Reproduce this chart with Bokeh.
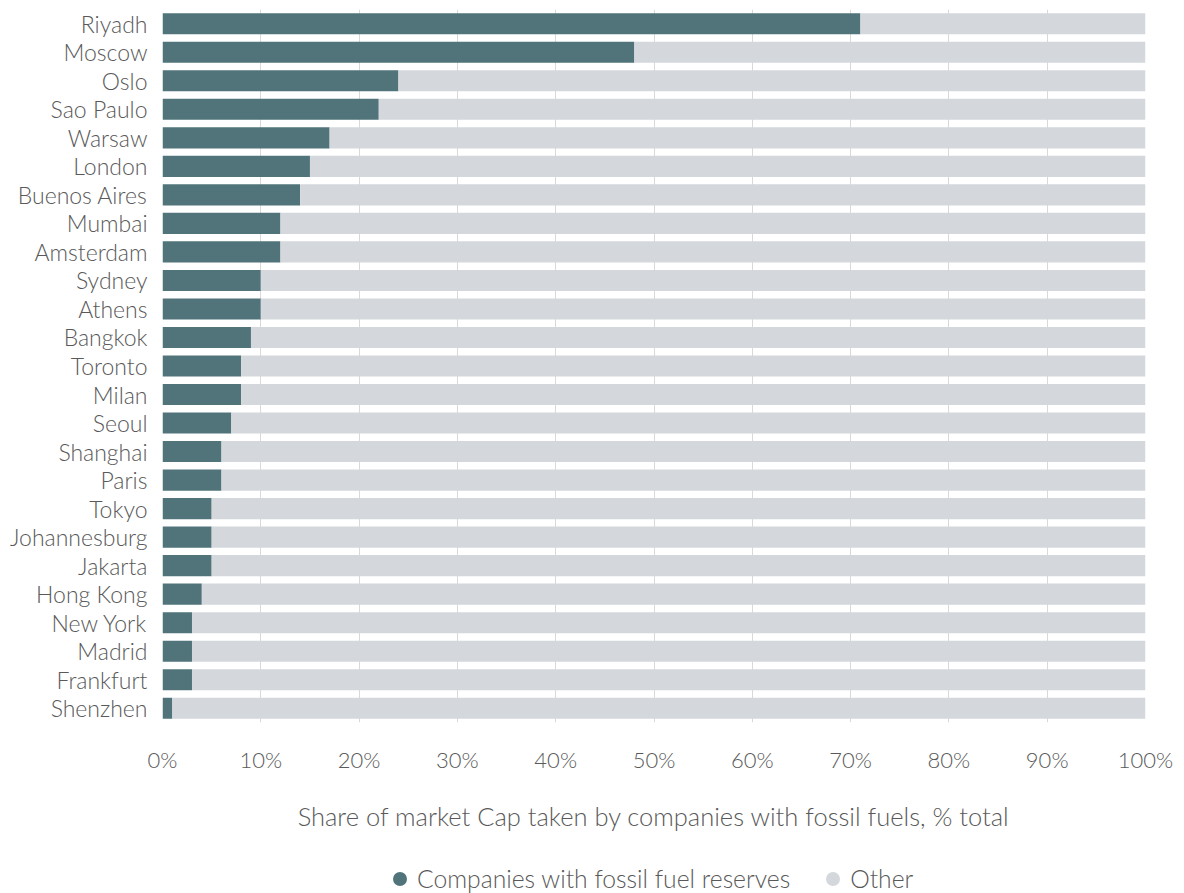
from bokeh.plotting import figure
from bokeh.layouts import column
from bokeh.models import FactorRange, Range1d, FixedTicker, PrintfTickFormatter, Legend, LegendItem, ColumnDataSource
from bokeh.embed import file_html
from bokeh.resources import INLINE

cities = ["Riyadh", "Moscow", "Oslo", "Sao Paulo", "Warsaw", "London", "Buenos Aires",
          "Mumbai", "Amsterdam", "Sydney", "Athens", "Bangkok", "Toronto", "Milan",
          "Seoul", "Shanghai", "Paris", "Tokyo", "Johannesburg", "Jakarta", "Hong Kong",
          "New York", "Madrid", "Frankfurt", "Shenzhen"]
fossil = [71, 48, 24, 22, 17, 15, 14, 12, 12, 10, 10, 9, 8, 8, 7, 6, 6, 5, 5, 5, 4, 3, 3, 3, 1]
other = [100 - v for v in fossil]
x_ticks = [0, 10, 20, 30, 40, 50, 60, 70, 80, 90, 100]
series_labels = ["Companies with fossil fuel reserves", "Other"]

FONT = "Lato Light"
TXT = "#595959"
C_FOSSIL = "#51747b"
C_OTHER = "#d4d8dc"

src = ColumnDataSource(dict(city=cities, fossil=fossil, other=other))

p = figure(width=1176, height=850, output_backend="svg", toolbar_location=None,
           y_range=FactorRange(factors=list(reversed(cities)), range_padding=0),
           x_range=Range1d(0, 100),
           min_border_left=162, min_border_right=31, min_border_top=9, min_border_bottom=128)
p.outline_line_color = None

p.hbar_stack(["fossil", "other"], y="city", height=0.74, color=[C_FOSSIL, C_OTHER],
             source=src, line_color=None)

p.ygrid.grid_line_color = None
p.xgrid.grid_line_color = "#d9d9d9"
p.xgrid.grid_line_width = 1

p.xaxis.ticker = FixedTicker(ticks=x_ticks)
p.xaxis.formatter = PrintfTickFormatter(format="%d%%")
for ax in (p.xaxis[0], p.yaxis[0]):
    ax.axis_line_color = None
    ax.major_tick_line_color = None
    ax.minor_tick_line_color = None
    ax.major_tick_out = 0
    ax.major_tick_in = 0
    ax.major_label_text_font = FONT
    ax.major_label_text_color = TXT
    ax.major_label_text_font_size = "22px"
p.yaxis.major_label_text_font_size = "23px"
p.yaxis.major_label_standoff = 15
p.xaxis.major_label_standoff = 23
p.xaxis.axis_label = "Share of market Cap taken by companies with fossil fuels, % total"
p.xaxis.axis_label_text_font = FONT
p.xaxis.axis_label_text_font_style = "normal"
p.xaxis.axis_label_text_color = TXT
p.xaxis.axis_label_text_font_size = "25.5px"
p.xaxis.axis_label_standoff = 25

# legend strip (separate figure, only holds the legend)
lf = figure(width=1176, height=43, output_backend="svg", toolbar_location=None,
            x_range=Range1d(0, 1), y_range=Range1d(0, 1),
            min_border_left=0, min_border_right=0, min_border_top=0, min_border_bottom=0)
lf.axis.visible = False
lf.grid.visible = False
lf.outline_line_color = None
r1 = lf.scatter(x=[-5], y=[-5], marker="circle", size=14, fill_color=C_FOSSIL, line_color=None)
r2 = lf.scatter(x=[-5], y=[-5], marker="circle", size=14, fill_color=C_OTHER, line_color=None)
legend = Legend(items=[LegendItem(label=series_labels[0], renderers=[r1]),
                       LegendItem(label=series_labels[1], renderers=[r2])],
                orientation="horizontal", location=(220, -3),
                label_text_font=FONT, label_text_font_size="24.7px", label_text_color=TXT,
                border_line_color=None, background_fill_alpha=0,
                glyph_width=35, glyph_height=35, label_standoff=0, spacing=25,
                padding=0, margin=0)
lf.add_layout(legend, "center")

layout = column(p, lf, spacing=0)
open("out.html", "w").write(file_html(layout, INLINE))
